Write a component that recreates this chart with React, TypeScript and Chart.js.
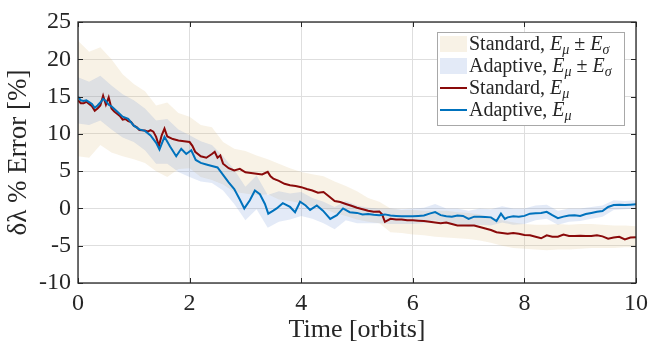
import { useEffect, useRef } from "react";
import { Chart, registerables } from "chart.js";

Chart.register(...registerables);

// Mean error of the standard filter, sampled at irregular times [orbits]
const stdMeanTime = [
  0, 0.05, 0.1, 0.15, 0.2, 0.25, 0.3, 0.35, 0.4, 0.45, 0.5, 0.55, 0.6, 0.65, 0.7, 0.75, 0.8, 0.85, 0.9, 0.95,
  1.0, 1.05, 1.1, 1.2, 1.25, 1.3, 1.35, 1.4, 1.45, 1.5, 1.55, 1.6, 1.7, 1.8, 1.9, 2.0, 2.05, 2.1, 2.2, 2.3,
  2.4, 2.45, 2.5, 2.55, 2.6, 2.7, 2.8, 2.9, 3.0, 3.1, 3.2, 3.3, 3.4, 3.45, 3.5, 3.6, 3.7, 3.8, 3.9, 4.0,
  4.1, 4.2, 4.3, 4.4, 4.5, 4.6, 4.7, 4.8, 4.9, 5.0, 5.1, 5.2, 5.3, 5.4, 5.45, 5.5, 5.6, 5.7, 5.8, 5.9,
  6.0, 6.1, 6.2, 6.3, 6.4, 6.5, 6.6, 6.7, 6.8, 6.9, 7.0, 7.1, 7.2, 7.3, 7.4, 7.5, 7.6, 7.7, 7.8, 7.9,
  8.0, 8.1, 8.2, 8.3, 8.4, 8.5, 8.6, 8.7, 8.8, 8.9, 9.0, 9.1, 9.2, 9.3, 9.4, 9.5, 9.6, 9.7, 9.8, 9.9, 10,
];
const stdMean = [
  14.5, 14.1, 14.1, 14.3, 14.0, 13.7, 13.1, 13.4, 13.8, 15.1, 13.9, 14.9, 13.4, 13.0, 12.7, 12.4, 11.9, 12.0, 11.7, 11.6,
  11.1, 10.9, 10.5, 10.45, 10.3, 10.5, 10.3, 9.6, 8.4, 9.8, 10.7, 9.65, 9.3, 9.1, 9.0, 8.9, 8.4, 7.6, 7.0, 6.8,
  7.3, 7.6, 6.8, 7.1, 6.0, 5.4, 5.1, 5.3, 4.85, 4.75, 4.65, 4.55, 4.9, 4.3, 4.0, 3.7, 3.3, 3.1, 3.0, 2.85,
  2.6, 2.4, 2.1, 2.2, 1.6, 1.0, 0.85, 0.6, 0.35, 0.1, -0.1, -0.3, -0.45, -0.4, -0.8, -1.8, -1.4, -1.5, -1.5, -1.6,
  -1.6, -1.65, -1.7, -1.8, -1.9, -2.0, -1.9, -2.1, -2.3, -2.3, -2.3, -2.3, -2.5, -2.7, -2.9, -3.2, -3.3, -3.4, -3.3, -3.4,
  -3.55, -3.6, -3.8, -4.0, -3.6, -3.8, -3.8, -3.5, -3.7, -3.7, -3.65, -3.7, -3.7, -3.6, -3.75, -4.05, -3.9, -3.8, -4.15, -3.9, -3.85,
];

// Mean error of the adaptive filter
const adpMeanTime = [
  0, 0.05, 0.1, 0.15, 0.2, 0.25, 0.3, 0.35, 0.4, 0.45, 0.5, 0.55, 0.6, 0.7, 0.8, 0.9, 1.0, 1.1, 1.2, 1.3,
  1.4, 1.46, 1.55, 1.65, 1.76, 1.85, 1.94, 2.03, 2.11, 2.2, 2.3, 2.4, 2.5, 2.6, 2.7, 2.8, 2.9, 2.98, 3.08, 3.17,
  3.26, 3.35, 3.41, 3.5, 3.56, 3.67, 3.8, 3.89, 3.98, 4.08, 4.16, 4.28, 4.39, 4.52, 4.64, 4.75, 4.87, 5.0, 5.1, 5.2,
  5.3, 5.4, 5.5, 5.6, 5.7, 5.8, 5.9, 6.0, 6.1, 6.2, 6.3, 6.4, 6.5, 6.6, 6.7, 6.8, 6.9, 7.0, 7.1, 7.2,
  7.3, 7.4, 7.5, 7.58, 7.65, 7.7, 7.8, 7.9, 8.0, 8.1, 8.2, 8.3, 8.4, 8.5, 8.6, 8.7, 8.8, 8.9, 9.0, 9.1,
  9.2, 9.3, 9.4, 9.5, 9.6, 9.7, 9.8, 9.9, 10,
];
const adpMean = [
  15.0, 14.5, 14.4, 14.5, 14.25, 14.0, 13.5, 13.8, 14.2, 14.7, 14.4, 13.9, 13.7, 13.0, 12.3, 12.0, 11.1, 10.6, 10.4, 9.8,
  8.8, 7.9, 9.6, 8.3, 7.0, 8.0, 7.3, 7.8, 6.5, 6.1, 5.9, 5.7, 5.5, 4.5, 3.5, 2.6, 1.2, 0.0, 1.1, 2.4,
  1.9, 0.6, -0.7, -0.3, 0.0, 0.7, 0.2, -0.5, 0.9, 0.4, -0.2, 0.4, -0.3, -1.4, -0.9, 0.0, -0.5, -0.6, -0.8, -0.75,
  -0.85, -0.9, -0.8, -0.95, -1.0, -1.05, -1.05, -1.05, -1.0, -0.95, -0.7, -0.5, -0.9, -1.05, -1.1, -0.95, -1.0, -1.4, -1.1, -1.1,
  -1.15, -1.2, -1.7, -0.7, -1.4, -1.2, -1.05, -1.1, -1.0, -0.7, -0.65, -0.6, -0.45, -0.9, -1.3, -1.1, -0.95, -0.9, -1.0, -0.75,
  -0.6, -0.45, -0.35, 0.2, 0.45, 0.5, 0.45, 0.5, 0.55,
];

// Mean ± one standard deviation envelopes
const bandTime = [
  0, 0.2, 0.4, 0.6, 0.8, 1, 1.2, 1.4, 1.6, 1.8, 2, 2.2, 2.4, 2.6, 2.8, 3, 3.2, 3.4, 3.6, 3.8,
  4, 4.2, 4.4, 4.6, 4.8, 5, 5.2, 5.4, 5.6, 5.8, 6, 6.2, 6.4, 6.6, 6.8, 7, 7.2, 7.4, 7.6, 7.8,
  8, 8.2, 8.4, 8.6, 8.8, 9, 9.2, 9.4, 9.6, 9.8, 10,
];
const stdUpper = [
  22.5, 21.0, 21.6, 20.0, 18.0, 16.7, 15.7, 13.8, 14.2, 12.8, 12.3, 11.2, 10.9, 8.9, 8.0, 7.7, 7.1, 6.6, 6.0, 5.4,
  4.9, 4.6, 4.3, 3.6, 3.0, 2.3, 1.4, 0.9, 0.0, -0.2, -0.2, -0.3, -0.3, -0.3, -0.5, -0.6, -0.8, -1.2, -1.6, -1.9,
  -2.1, -2.2, -2.2, -2.1, -2.2, -2.1, -2.1, -2.2, -2.3, -2.3, -2.4,
];
const stdLower = [
  7.0, 6.8, 8.5, 7.5, 7.0, 6.6, 6.1, 5.0, 4.2, 5.3, 5.4, 4.2, 3.8, 3.2, 2.2, 2.0, 1.8, 1.9, 1.2, 1.0,
  0.7, 0.3, 0.0, -0.6, -1.0, -1.5, -1.8, -2.0, -3.2, -3.3, -3.5, -3.6, -3.8, -3.9, -4.0, -4.1, -4.3, -4.6, -5.0, -5.3,
  -5.4, -5.5, -5.6, -5.5, -5.5, -5.4, -5.3, -5.3, -5.3, -5.2, -5.2,
];
const adpUpper = [
  17.6, 17.0, 17.8, 16.5, 15.3, 14.5, 13.4, 11.8, 12.0, 10.6, 9.8, 9.0, 8.5, 7.0, 5.2, 2.9, 4.4, 1.8, 2.3, 2.0,
  2.2, 1.4, 0.9, 0.2, 1.0, 0.4, 0.1, 0.0, 0.0, -0.1, 0.0, 0.1, 0.6, 0.0, 0.0, -0.3, 0.0, -0.1, 0.3, 0.0,
  0.0, 0.4, 0.5, -0.3, 0.0, 0.0, 0.2, 0.4, 1.1, 1.0, 1.1,
];
const adpLower = [
  11.4, 11.2, 11.8, 10.6, 9.5, 8.9, 7.8, 6.0, 6.0, 4.9, 4.2, 3.6, 3.4, 2.4, 0.6, -1.6, -0.1, -2.6, -1.8, -1.5,
  -1.0, -1.4, -2.0, -2.8, -1.6, -2.0, -2.0, -2.0, -2.1, -2.1, -2.1, -2.0, -1.6, -2.1, -2.1, -2.5, -2.2, -2.3, -1.9, -2.2,
  -2.1, -1.6, -1.4, -2.2, -1.8, -1.7, -1.4, -1.1, -0.2, -0.1, 0.0,
];

const xTicks = [0, 2, 4, 6, 8, 10];
const yTicks = [-10, -5, 0, 5, 10, 15, 20, 25];

const FONT = "'Liberation Serif', 'DejaVu Serif', serif";
const INK = "#262626";
const STD_LINE = "#8a0a0a";
const ADP_LINE = "#0072bd";
const STD_FILL = "rgba(220,190,130,0.2)";
const ADP_FILL = "rgba(100,140,210,0.18)";

const pts = (t: number[], v: number[]) => t.map((x, i) => ({ x, y: v[i] }));

type Part = { t: string; it?: boolean; sub?: boolean };

function drawRich(ctx: CanvasRenderingContext2D, x: number, y: number, parts: Part[]) {
  for (const p of parts) {
    const size = p.sub ? 14 : 20;
    ctx.font = `${p.it ? "italic " : ""}${size}px ${FONT}`;
    ctx.fillText(p.t, x, y + (p.sub ? 4 : 0));
    x += ctx.measureText(p.t).width;
  }
}

const framePlugin = {
  id: "frame",
  afterDatasetsDraw(chart: any) {
    const { ctx, chartArea: a, scales } = chart;
    ctx.save();
    ctx.strokeStyle = INK;
    ctx.lineWidth = 1;
    const len = 5;
    ctx.beginPath();
    for (const v of xTicks) {
      const px = Math.round(scales.x.getPixelForValue(v)) + 0.5;
      ctx.moveTo(px, a.bottom);
      ctx.lineTo(px, a.bottom - len);
      ctx.moveTo(px, a.top);
      ctx.lineTo(px, a.top + len);
    }
    for (const v of yTicks) {
      const py = Math.round(scales.y.getPixelForValue(v)) + 0.5;
      ctx.moveTo(a.left, py);
      ctx.lineTo(a.left + len, py);
      ctx.moveTo(a.right, py);
      ctx.lineTo(a.right - len, py);
    }
    ctx.stroke();
    ctx.lineWidth = 1.3;
    ctx.strokeRect(a.left, a.top, a.right - a.left, a.bottom - a.top);
    ctx.restore();
  },
};

const legendPlugin = {
  id: "mathLegend",
  afterDraw(chart: any) {
    const { ctx, chartArea: a } = chart;
    const right = a.right - 12;
    const w = 187;
    const left = right - w;
    const top = a.top + 10;
    const h = 93;
    ctx.save();
    ctx.fillStyle = "#ffffff";
    ctx.fillRect(left, top, w, h);
    ctx.strokeStyle = "#a8a8a8";
    ctx.lineWidth = 1;
    ctx.strokeRect(left + 0.5, top + 0.5, w, h);

    const rows: { kind: "fill" | "line"; color: string; label: string }[] = [
      { kind: "fill", color: STD_FILL, label: "Standard, " },
      { kind: "fill", color: ADP_FILL, label: "Adaptive, " },
      { kind: "line", color: STD_LINE, label: "Standard, " },
      { kind: "line", color: ADP_LINE, label: "Adaptive, " },
    ];
    const sx0 = left + 3;
    const sx1 = left + 30;
    rows.forEach((r, i) => {
      const cy = a.top + 22 + i * 22;
      if (r.kind === "fill") {
        ctx.fillStyle = r.color;
        ctx.fillRect(sx0, cy - 8, sx1 - sx0, 16);
      } else {
        ctx.strokeStyle = r.color;
        ctx.lineWidth = 2;
        ctx.beginPath();
        ctx.moveTo(sx0, cy);
        ctx.lineTo(sx1, cy);
        ctx.stroke();
      }
      ctx.fillStyle = INK;
      ctx.textBaseline = "alphabetic";
      const parts: Part[] =
        r.kind === "fill"
          ? [{ t: r.label }, { t: "E", it: true }, { t: "μ", it: true, sub: true }, { t: " ± " }, { t: "E", it: true }, { t: "σ", it: true, sub: true }]
          : [{ t: r.label }, { t: "E", it: true }, { t: "μ", it: true, sub: true }];
      drawRich(ctx, sx1 + 2, cy + 6, parts);
    });
    ctx.restore();
  },
};

export default function App() {
  const ref = useRef<HTMLCanvasElement>(null);

  useEffect(() => {
    if (!ref.current) return;
    const chart = new Chart(ref.current, {
      type: "line",
      data: {
        datasets: [
          {
            label: "Standard upper",
            data: pts(bandTime, stdUpper),
            borderColor: "transparent",
            borderWidth: 0,
            backgroundColor: STD_FILL,
            fill: "+1",
            pointRadius: 0,
            order: 3,
          },
          {
            label: "Standard lower",
            data: pts(bandTime, stdLower),
            borderColor: "transparent",
            borderWidth: 0,
            fill: false,
            pointRadius: 0,
            order: 3,
          },
          {
            label: "Adaptive upper",
            data: pts(bandTime, adpUpper),
            borderColor: "transparent",
            borderWidth: 0,
            backgroundColor: ADP_FILL,
            fill: "+1",
            pointRadius: 0,
            order: 2,
          },
          {
            label: "Adaptive lower",
            data: pts(bandTime, adpLower),
            borderColor: "transparent",
            borderWidth: 0,
            fill: false,
            pointRadius: 0,
            order: 2,
          },
          {
            label: "Standard mean",
            data: pts(stdMeanTime, stdMean),
            borderColor: STD_LINE,
            borderWidth: 2,
            fill: false,
            pointRadius: 0,
            order: 1,
          },
          {
            label: "Adaptive mean",
            data: pts(adpMeanTime, adpMean),
            borderColor: ADP_LINE,
            borderWidth: 2,
            fill: false,
            pointRadius: 0,
            order: 0,
          },
        ],
      },
      options: {
        animation: false,
        responsive: false,
        layout: { padding: { left: 0, right: 13, top: 22, bottom: 0 } },
        plugins: { legend: { display: false }, tooltip: { enabled: false } },
        elements: { line: { tension: 0 } },
        scales: {
          x: {
            type: "linear",
            min: 0,
            max: 10,
            afterFit: (s: any) => {
              s.height = 61;
              s.paddingLeft = 0;
              s.paddingRight = 0;
            },
            afterBuildTicks: (s: any) => {
              s.ticks = xTicks.map((v) => ({ value: v }));
            },
            ticks: { font: { family: FONT, size: 24 }, color: INK, padding: 6, maxRotation: 0 },
            grid: { color: "#dedede", lineWidth: 1, drawTicks: false },
            border: { display: false },
            title: {
              display: true,
              text: "Time [orbits]",
              font: { family: FONT, size: 26 },
              color: INK,
              padding: { top: 0, bottom: -2 },
            },
          },
          y: {
            type: "linear",
            min: -10,
            max: 25,
            afterFit: (s: any) => {
              s.width = 78;
              s.paddingTop = 0;
              s.paddingBottom = 0;
            },
            afterBuildTicks: (s: any) => {
              s.ticks = yTicks.map((v) => ({ value: v }));
            },
            ticks: { font: { family: FONT, size: 24 }, color: INK, padding: 7 },
            grid: { color: "#dedede", lineWidth: 1, drawTicks: false },
            border: { display: false },
            title: {
              display: true,
              text: "δλ % Error [%]",
              font: { family: FONT, size: 27 },
              color: INK,
              padding: { top: 3, bottom: 0 },
            },
          },
        },
      },
      plugins: [framePlugin, legendPlugin],
    });
    return () => chart.destroy();
  }, []);

  return (
    <div style={{ position: "fixed", left: 0, top: 0, width: 649, height: 344, background: "#fff" }}>
      <canvas ref={ref} width={649} height={344} />
    </div>
  );
}
